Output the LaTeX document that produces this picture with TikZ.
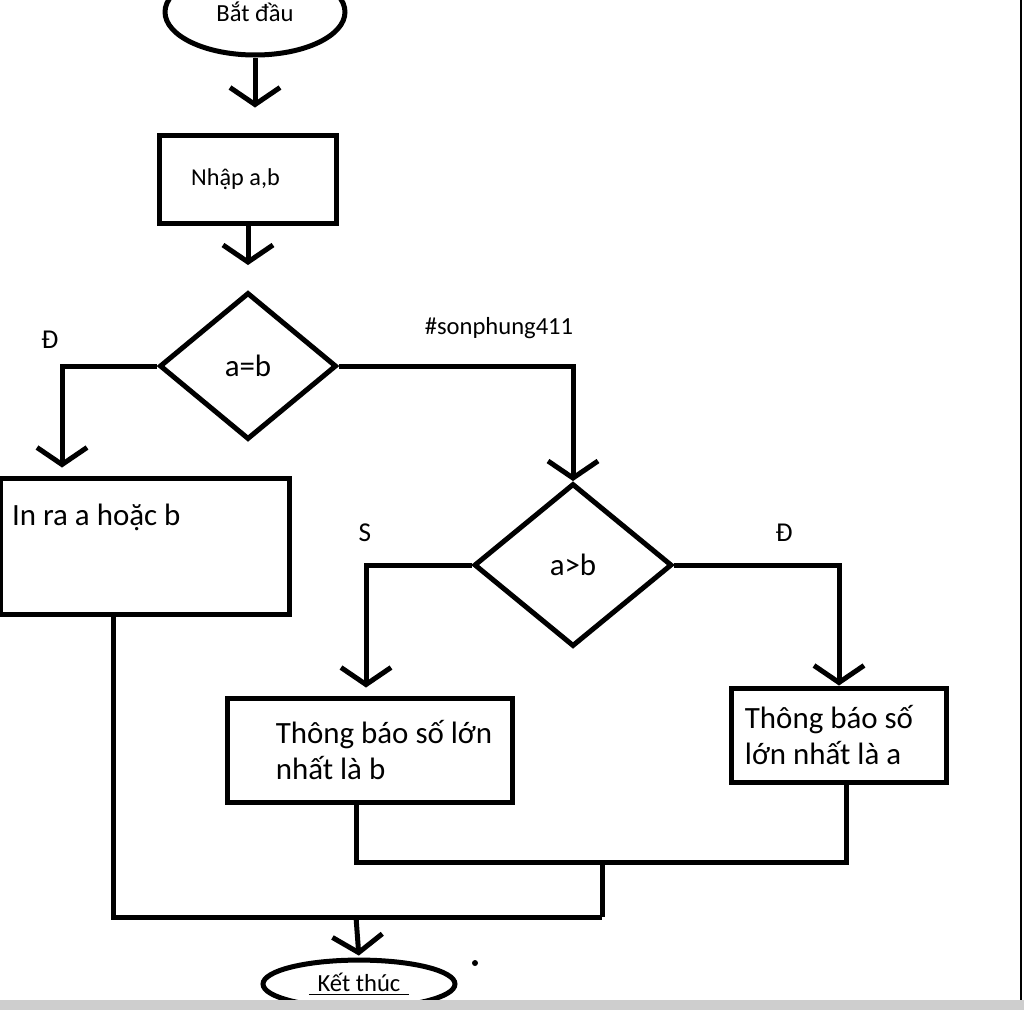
\documentclass[tikz,border=0pt]{standalone}
\usepackage{fontspec}
\setmainfont{Carlito}
\usetikzlibrary{shapes.geometric,arrows.meta}
\newcommand\smalltext{\fontsize{14}{17}\selectfont}
\newcommand\midtext{\fontsize{13.8}{17}\selectfont}
\newcommand\tagtext{\fontsize{15.5}{18}\selectfont}
\newcommand\bigtext{\fontsize{17.6}{20.4}\selectfont}
\definecolor{bargray}{RGB}{206,206,206}
\begin{document}
\begin{tikzpicture}[
        x=0.02cm, y=-0.02cm,
        line width=0.1cm,
        terminal/.style={ellipse, draw, font=\smalltext},
        box/.style={rectangle, draw, align=left, font=\bigtext},
        decision/.style={diamond, draw, font=\bigtext},
        tag/.style={font=\tagtext},
        arrow/.style={-{Straight Barb[length=0.34cm, width=1cm]}}
    ]
        \useasboundingbox (0,0) rectangle (1024,1009);
        \node[terminal, minimum width=3.6cm, minimum height=1.72cm] (start) at (255,12) {Bắt đầu};
        \node[box, minimum width=3.54cm, minimum height=1.76cm, font=\midtext] (input) at (248,179) {Nhập a,b\hspace{0.5cm}};
        \node[decision, minimum width=3.54cm, minimum height=2.94cm] (eq) at (248,366) {a=b};
        \node[box, minimum width=5.8cm, minimum height=2.72cm,
            label={[anchor=north west, inner sep=0pt, font=\bigtext, xshift=0.24cm, yshift=-0.52cm]north west:In ra a hoặc b}]
            (print) at (145,546) {};
        \node[decision, minimum width=3.96cm, minimum height=3.26cm] (gt) at (573,565) {a>b};
        \node[box, minimum width=5.7cm, minimum height=2.08cm] (showb) at (370,750)
            {\hspace*{0.56cm}Thông báo số lớn\\\hspace*{0.56cm}nhất là b};
        \node[box, minimum width=4.32cm, minimum height=1.88cm] (showa) at (839,735)
            {Thông báo số\hspace*{0.4cm}\\lớn nhất là a};
        \node[terminal, minimum width=3.84cm, minimum height=0.92cm] (finish) at (359,984)
            {\underline{\kern5pt Kết thúc\kern5pt}};
        % labels
        \node[tag] (yes1) at (50,340) {Đ};
        \node[tag, font=\smalltext] (handle) at (499,328) {\#sonphung411};
        \node[tag] (no2) at (365,533) {S};
        \node[tag] (yes2) at (784,533) {Đ};
        % flow
        \draw[arrow, shorten >=0.5cm] (start.south) -- (start.south |- input.north);
        \draw[arrow, shorten >=0.5cm] (input.south) -- (eq.north);
        \draw[arrow, shorten >=0.16cm] (eq.west) -| ([xshift=-1.66cm]print.north);
        \draw[arrow] (eq.east) -| (gt.north);
        \draw[arrow, shorten >=0.16cm] (gt.west) -| ([xshift=-0.08cm]showb.north);
        \draw[arrow] (gt.east) -| (showa.north);
        % join
        \coordinate (merge) at (602,862);
        \coordinate (gather) at (602,917);
        \coordinate (drop) at (356,917);
        \draw ([xshift=-0.28cm]showb.south) |- (merge) -| ([xshift=0.14cm]showa.south);
        \draw (merge) -- (gather);
        \draw ([xshift=-0.64cm]print.south) |- (gather);
        \draw[arrow, shorten >=0.04cm] (drop) -- (finish.north);
        \fill (475,963) circle (0.06cm);
        % frame
        \draw[line width=0.05cm] (1021,0) -- (1021,1000);
        \fill[bargray] (0,1000) rectangle (1030,1030);
    \end{tikzpicture}
\end{document}
